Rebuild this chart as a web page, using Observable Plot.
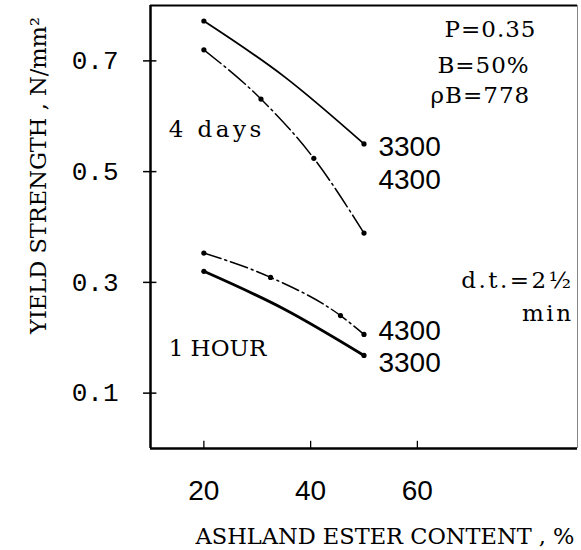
<!DOCTYPE html>
<html>
<head>
<meta charset="utf-8">
<script src="https://cdn.jsdelivr.net/npm/d3@7"></script>
<script src="https://cdn.jsdelivr.net/npm/@observablehq/plot@0.6"></script>
<style>
  html, body { margin: 0; padding: 0; background: #fff; }
  svg { display: block; }
  .wide text { letter-spacing: 3.5px; }
  .dt text { letter-spacing: 2.5px; }
  .ann text { letter-spacing: 1px; }
</style>
</head>
<body>
<div id="chart"></div>
<script>
// ---- data ----
const xTicks = [20, 40, 60];
const yTicks = [0.1, 0.3, 0.5, 0.7];

const days4_3300_x = [20, 35, 50];
const days4_3300_y = [0.772, 0.672, 0.550];
const days4_3300_dot = [true, false, true];

const days4_4300_x = [20, 30.7, 40.6, 50];
const days4_4300_y = [0.720, 0.631, 0.524, 0.389];
const days4_4300_dot = [true, true, true, true];

const hour1_4300_x = [20, 32.5, 45.6, 50];
const hour1_4300_y = [0.353, 0.309, 0.240, 0.206];
const hour1_4300_dot = [true, true, true, true];

const hour1_3300_x = [20, 35, 50];
const hour1_3300_y = [0.320, 0.252, 0.168];
const hour1_3300_dot = [true, false, true];

const xLabel = "ASHLAND ESTER CONTENT , %";
const yLabel = "YIELD STRENGTH , N/mm²";

// ---- build tables ----
function build(name, xs, ys, dots) {
  return xs.map((x, i) => ({series: name, x, y: ys[i], dot: dots[i]}));
}
const s4d3300 = build("4d3300", days4_3300_x, days4_3300_y, days4_3300_dot);
const s4d4300 = build("4d4300", days4_4300_x, days4_4300_y, days4_4300_dot);
const s1h4300 = build("1h4300", hour1_4300_x, hour1_4300_y, hour1_4300_dot);
const s1h3300 = build("1h3300", hour1_3300_x, hour1_3300_y, hour1_3300_dot);
const allPts = [...s4d3300, ...s4d4300, ...s1h4300, ...s1h3300].filter(d => d.dot);

const serif = "DejaVu Serif, serif";
const mono = "Liberation Mono, DejaVu Sans Mono, monospace";
const sans = "Liberation Sans, Arial, sans-serif";

const chart = Plot.plot({
  width: 581,
  height: 550,
  marginLeft: 150,
  marginRight: 4,
  marginTop: 5,
  marginBottom: 102,
  style: {background: "#fff", color: "#000", overflow: "visible"},
  x: {domain: [10, 90], axis: null},
  y: {domain: [0, 0.8], axis: null},
  marks: [
    // frame
    Plot.ruleX([10], {y1: 0, y2: 0.8, stroke: "#000", strokeWidth: 2.5}),
    Plot.ruleX([90], {y1: 0, y2: 0.8, stroke: "#888", strokeWidth: 1}),
    Plot.ruleY([0], {x1: 10, x2: 90, stroke: "#000", strokeWidth: 2.5}),
    Plot.ruleY([0.8], {x1: 10, x2: 90, stroke: "#000", strokeWidth: 2}),
    // ticks
    Plot.ruleY(yTicks, {y: d => d, x1: 8.7, x2: 11.2, stroke: "#000", strokeWidth: 1.5}),
    Plot.ruleX(xTicks, {x: d => d, y1: 0, y2: 0.013, stroke: "#000", strokeWidth: 1.3}),
    // tick labels
    Plot.text(yTicks, {x: 10, y: d => d, text: d => d.toFixed(1), textAnchor: "end", dx: -32,
      fontFamily: mono, fontSize: 26, fill: "#000"}),
    Plot.text(xTicks, {x: d => d, y: 0, dy: 43, text: d => String(d),
      fontFamily: sans, fontSize: 28, fill: "#000"}),
    // axis titles
    Plot.text([xLabel], {x: 90, y: 0, dy: 88, dx: -3, text: d => d, textAnchor: "end",
      fontFamily: serif, fontSize: 22.5, fill: "#000"}),
    Plot.text([yLabel], {x: 10, y: 0.493, dx: -112, text: d => d, rotate: -90,
      fontFamily: serif, fontSize: 22.5, fill: "#000"}),
    // lines
    Plot.line(s4d3300, {x: "x", y: "y", curve: "monotone-x", stroke: "#000", strokeWidth: 1.8}),
    Plot.line(s4d4300, {x: "x", y: "y", curve: "monotone-x", stroke: "#000", strokeWidth: 1.5,
      strokeDasharray: "22,4,2,4"}),
    Plot.line(s1h4300, {x: "x", y: "y", curve: "monotone-x", stroke: "#000", strokeWidth: 1.5,
      strokeDasharray: "18,4,2,4"}),
    Plot.line(s1h3300, {x: "x", y: "y", curve: "monotone-x", stroke: "#000", strokeWidth: 2.8}),
    Plot.dot(allPts, {x: "x", y: "y", r: 2.6, fill: "#000", stroke: "none"}),
    // annotations
    Plot.text(["P=0.35"], {x: 73.7, y: 0.756, text: d => d, className: "ann", fontFamily: serif, fontSize: 23, fill: "#000"}),
    Plot.text(["B=50%"], {x: 72.4, y: 0.692, text: d => d, className: "ann", fontFamily: serif, fontSize: 23, fill: "#000"}),
    Plot.text(["ρB=778"], {x: 71.8, y: 0.638, text: d => d, className: "ann", fontFamily: serif, fontSize: 23, fill: "#000"}),
    Plot.text(["4 days"], {x: 13.4, y: 0.575, text: d => d, textAnchor: "start", className: "wide", fontFamily: serif, fontSize: 23, fill: "#000"}),
    Plot.text(["1 HOUR"], {x: 13.4, y: 0.181, text: d => d, textAnchor: "start", fontFamily: serif, fontSize: 23, fill: "#000"}),
    Plot.text(["3300"], {x: 52.7, y: 0.544, text: d => d, textAnchor: "start", fontFamily: sans, fontSize: 28, fill: "#000"}),
    Plot.text(["4300"], {x: 52.7, y: 0.484, text: d => d, textAnchor: "start", fontFamily: sans, fontSize: 28, fill: "#000"}),
    Plot.text(["4300"], {x: 52.7, y: 0.212, text: d => d, textAnchor: "start", fontFamily: sans, fontSize: 28, fill: "#000"}),
    Plot.text(["3300"], {x: 52.7, y: 0.154, text: d => d, textAnchor: "start", fontFamily: sans, fontSize: 28, fill: "#000"}),
    Plot.text(["d.t.=2½"], {x: 90, y: 0.303, dx: -4, text: d => d, textAnchor: "end", className: "dt", fontFamily: serif, fontSize: 23, fill: "#000"}),
    Plot.text(["min"], {x: 90, y: 0.243, dx: -4, text: d => d, textAnchor: "end", className: "dt", fontFamily: serif, fontSize: 23, fill: "#000"})
  ]
});
document.getElementById("chart").appendChild(chart);
</script>
</body>
</html>
